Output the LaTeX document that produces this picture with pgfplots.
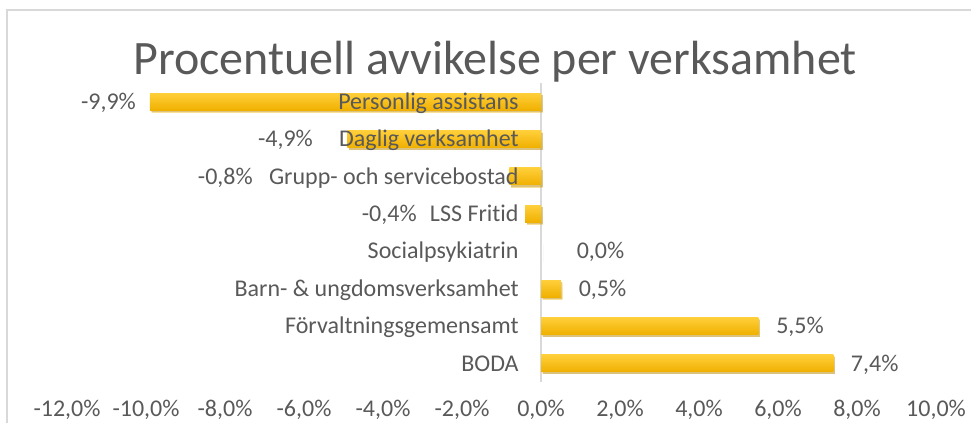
\documentclass[border=0pt]{standalone}
\usepackage{fontspec}
\setmainfont{Carlito}[Ligatures=NoCommon]
\usepackage{pgfplots}
\pgfplotsset{compat=1.18}
\usetikzlibrary{shadows}
\definecolor{txtgray}{HTML}{595959}
\definecolor{axgray}{HTML}{D9D9D9}
\definecolor{goldtop}{HTML}{FFCF3A}
\definecolor{goldbot}{HTML}{F0B000}
\begin{document}
\begin{tikzpicture}
\useasboundingbox (0,0) rectangle (728.25pt,317.25pt);
\draw[axgray, line width=0.9pt] (5.25pt,0) -- (5.25pt,309.75pt) -- (740pt,309.75pt);
\node[anchor=base, text=txtgray, font=\fontsize{36}{42}\selectfont, inner sep=0] at (371.25pt,261pt) {Procentuell avvikelse per verksamhet};
\begin{axis}[
  at={(50.25pt,30.75pt)}, anchor=south west,
  scale only axis, width=651.75pt, height=224.25pt,
  xmin=-12, xmax=10, ymin=-0.5, ymax=7.5,
  axis line style={draw=none},
  major tick length=0pt,
  ytick=\empty,
  xtick={-12,-10,...,10},
  xticklabels={{-12,0\%},{-10,0\%},{-8,0\%},{-6,0\%},{-4,0\%},{-2,0\%},{0,0\%},{2,0\%},{4,0\%},{6,0\%},{8,0\%},{10,0\%}},
  xticklabel style={anchor=center, yshift=-21pt, text=txtgray, font=\fontsize{18}{21}\selectfont},
  clip=false,
  goldbar/.style={xbar, bar width=12.75pt, bar shift=0pt, draw=none, top color=goldtop, bottom color=goldbot,
    drop shadow={shadow xshift=1.2pt, shadow yshift=-1.6pt, opacity=0.4}},
]
\draw[axgray, line width=0.9pt] (axis cs:0,-0.5) -- (axis cs:0,7.5);
\addplot[goldbar] coordinates {(-9.9,7)};
\addplot[goldbar] coordinates {(-4.9,6)};
\addplot[goldbar] coordinates {(-0.8,5)};
\addplot[goldbar] coordinates {(-0.4,4)};
\addplot[goldbar] coordinates {(0.0,3)};
\addplot[goldbar] coordinates {(0.5,2)};
\addplot[goldbar] coordinates {(5.5,1)};
\addplot[goldbar] coordinates {(7.4,0)};
% category labels
\begin{scope}[every node/.style={anchor=base east, yshift=-5.8pt, inner sep=0, text=txtgray, font=\fontsize{18}{21}\selectfont}]
\node at (axis cs:-0.56,7) {Personlig assistans};
\node at (axis cs:-0.56,6) {Daglig verksamhet};
\node at (axis cs:-0.56,5) {Grupp- och servicebostad};
\node at (axis cs:-0.56,4) {LSS Fritid};
\node at (axis cs:-0.56,3) {Socialpsykiatrin};
\node at (axis cs:-0.56,2) {Barn- \& ungdomsverksamhet};
\node at (axis cs:-0.56,1) {Förvaltningsgemensamt};
\node at (axis cs:-0.56,0) {BODA};
% value labels (negative)
\node at (axis cs:-10.25,7) {-9,9\%};
\node at (axis cs:-5.77,6) {-4,9\%};
\node at (axis cs:-7.29,5) {-0,8\%};
\node at (axis cs:-3.14,4) {-0,4\%};
\end{scope}
\begin{scope}[every node/.style={anchor=base west, yshift=-5.8pt, inner sep=0, text=txtgray, font=\fontsize{18}{21}\selectfont}]
\node at (axis cs:0.9,3) {0,0\%};
\node at (axis cs:0.95,2) {0,5\%};
\node at (axis cs:5.95,1) {5,5\%};
\node at (axis cs:7.84,0) {7,4\%};
\end{scope}
\end{axis}
\end{tikzpicture}
\end{document}
